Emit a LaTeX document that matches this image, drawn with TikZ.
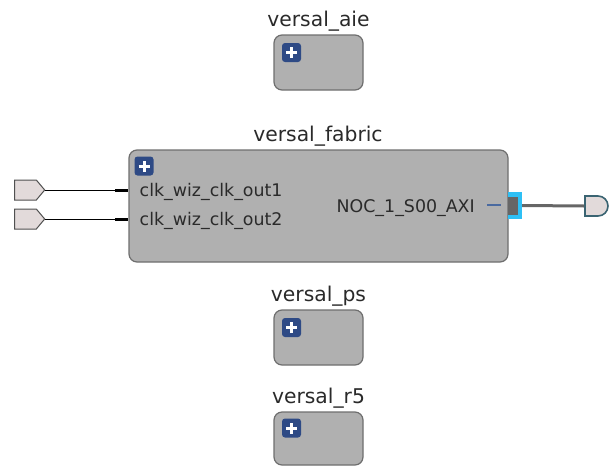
\documentclass[tikz,border=0pt]{standalone}
\usepackage{fontspec}
\setmainfont{DejaVu Sans}
\usetikzlibrary{shapes.symbols,shapes.misc}
\definecolor{boxfill}{HTML}{B0B0B0}
\definecolor{boxline}{HTML}{6E6E6E}
\definecolor{plusblue}{HTML}{2E4A85}
\definecolor{portfill}{HTML}{E2DADA}
\definecolor{portline}{HTML}{505050}
\definecolor{outline}{HTML}{3A6472}
\definecolor{txt}{HTML}{2A2A2A}
\definecolor{cyanport}{HTML}{2EC0F5}
\definecolor{wiregray}{HTML}{666666}
\definecolor{dashblue}{HTML}{4A6AA0}
\begin{document}
\begin{tikzpicture}[x=1pt,y=-1pt,
  blockbox/.style={draw=boxline,fill=boxfill,line width=1.2pt,rounded corners=8pt,inner sep=0pt},
  plusicon/.style={fill=plusblue,rounded corners=3pt,minimum width=19pt,minimum height=19pt,inner sep=0pt,
    path picture={\draw[white,line width=3pt] ([xshift=-5.5pt]path picture bounding box.center) -- ([xshift=5.5pt]path picture bounding box.center);
                  \draw[white,line width=3pt] ([yshift=-5.5pt]path picture bounding box.center) -- ([yshift=5.5pt]path picture bounding box.center);}},
  title/.style={text=txt,font=\fontsize{20.3}{23}\selectfont,inner sep=0pt,anchor=base},
  pinlabel/.style={text=txt,font=\fontsize{17.4}{20}\selectfont,inner sep=0pt,anchor=base west},
  inport/.style={signal,signal to=east,signal pointer angle=100,draw=portline,fill=portfill,line width=1pt,
    minimum width=30pt,minimum height=20pt,inner sep=0pt},
  outport/.style={rounded rectangle,rounded rectangle left arc=none,draw=outline,fill=portfill,line width=1.6pt,
    minimum width=23pt,minimum height=20pt,inner sep=0pt},
]
\useasboundingbox (0,0) rectangle (609,466);

% versal_aie
\node[title] (aielbl) at (318.5,26) {versal\_aie};
\node[blockbox,minimum width=89pt,minimum height=55pt] (aie) at (318.5,62.5) {};
\node[plusicon] (aieplus) at (291.5,52.5) {};

% versal_fabric
\node[title] (fablbl) at (318,141) {versal\_fabric};
\node[blockbox,minimum width=379pt,minimum height=112pt] (fab) at (318.5,206) {};
\node[plusicon] (fabplus) at (144,166) {};
\node[pinlabel] (clk1) at (139.5,196) {clk\_wiz\_clk\_out1};
\node[pinlabel] (clk2) at (139.5,225) {clk\_wiz\_clk\_out2};
\node[pinlabel,anchor=base east] (noc) at (475,212) {NOC\_1\_S00\_AXI};

% input ports
\node[inport] (in1) at (25.5,190) {};
\node[inport] (in2) at (25.5,219) {};
\coordinate (s1) at (115,190);
\coordinate (s2) at (115,219);
\draw[black,line width=1pt] (in1.east) -- (s1);
\draw[black,line width=1pt] (in2.east) -- (s2);
\draw[black,line width=3pt] (s1) -- (s1 -| fab.west);
\draw[black,line width=3pt] (s2) -- (s2 -| fab.west);

% output interface
\coordinate (d1) at (487,205);
\coordinate (d2) at (501,205);
\draw[dashblue,line width=1.3pt] (d1) -- (d2);
\node[fill=cyanport,minimum width=14pt,minimum height=27pt,inner sep=0pt] (cport) at (515,205.5) {};
\node[fill=wiregray,minimum width=10pt,minimum height=18pt,inner sep=0pt] (cinner) at (513,205.5) {};
\node[outport] (out1) at (596.5,206) {};
\draw[wiregray,line width=3pt] (cport.east) -- (out1.west);

% versal_ps
\node[title] (pslbl) at (318.5,301) {versal\_ps};
\node[blockbox,minimum width=89pt,minimum height=55pt] (ps) at (318.5,337.5) {};
\node[plusicon] (psplus) at (291.5,327.5) {};

% versal_r5
\node[title] (r5lbl) at (318.5,403) {versal\_r5};
\node[blockbox,minimum width=89pt,minimum height=53pt] (r5) at (318.5,438.5) {};
\node[plusicon] (r5plus) at (291.5,428) {};
\end{tikzpicture}
\end{document}
